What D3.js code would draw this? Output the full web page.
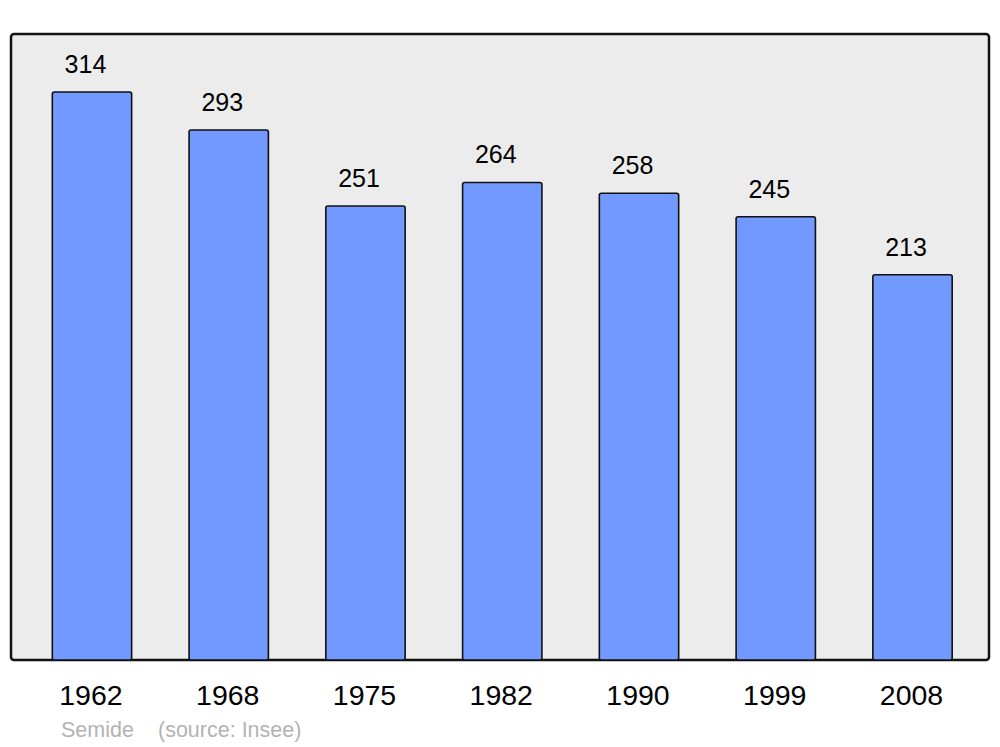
<!DOCTYPE html>
<html>
<head>
<meta charset="utf-8">
<script src="https://cdn.jsdelivr.net/npm/d3@7"></script>
<style>
  body { margin: 0; background: #fff; }
  svg { display: block; font-family: "Liberation Sans", Arial, sans-serif; }
</style>
</head>
<body>
<div id="chart"></div>
<script>
// data
const years = ["1962", "1968", "1975", "1982", "1990", "1999", "2008"];
const population = [314, 293, 251, 264, 258, 245, 213];
const commune = "Semide";
const source = "(source: Insee)";

const w = 1000;
const h = 747;

const svg = d3.select("#chart")
  .append("svg")
  .attr("width", w)
  .attr("height", h);

// panel
svg.append("rect")
  .attr("x", 11)
  .attr("y", 34)
  .attr("width", 978)
  .attr("height", 626)
  .attr("rx", 3)
  .attr("ry", 3)
  .attr("fill", "#ececec")
  .attr("stroke", "#111")
  .attr("stroke-width", 2.5);

const x = d3.scaleBand()
  .domain(years)
  .range([23.6, 980.9])
  .paddingInner(0.42)
  .paddingOuter(0.21);

const y = d3.scaleLinear()
  .domain([0, 314])
  .range([660, 92]);

// bars
svg.selectAll(".bar")
  .data(population)
  .enter()
  .append("rect")
  .attr("class", "bar")
  .attr("x", (d, i) => x(years[i]))
  .attr("y", d => y(d))
  .attr("width", x.bandwidth())
  .attr("height", d => y(0) - y(d))
  .attr("rx", 2)
  .attr("ry", 2)
  .attr("fill", "#7299ff")
  .attr("stroke", "#111")
  .attr("stroke-width", 1.6);

// value labels
svg.selectAll(".val")
  .data(population)
  .enter()
  .append("text")
  .attr("class", "val")
  .attr("x", (d, i) => x(years[i]) + x.bandwidth() / 2 - 6.5)
  .attr("y", d => y(d) - 19)
  .attr("text-anchor", "middle")
  .style("font-size", "25px")
  .attr("fill", "#000")
  .text(d => d);

// year labels
svg.selectAll(".year")
  .data(years)
  .enter()
  .append("text")
  .attr("class", "year")
  .attr("x", d => x(d) + x.bandwidth() / 2 - 1)
  .attr("y", 705)
  .attr("text-anchor", "middle")
  .style("font-size", "28.5px")
  .attr("fill", "#000")
  .text(d => d);

// footer
svg.append("text")
  .attr("x", 61)
  .attr("y", 737)
  .style("font-size", "21.5px")
  .attr("fill", "#b3b3b3")
  .text(commune);

svg.append("text")
  .attr("x", 158)
  .attr("y", 737)
  .style("font-size", "21.5px")
  .attr("fill", "#b3b3b3")
  .text(source);
</script>
</body>
</html>
